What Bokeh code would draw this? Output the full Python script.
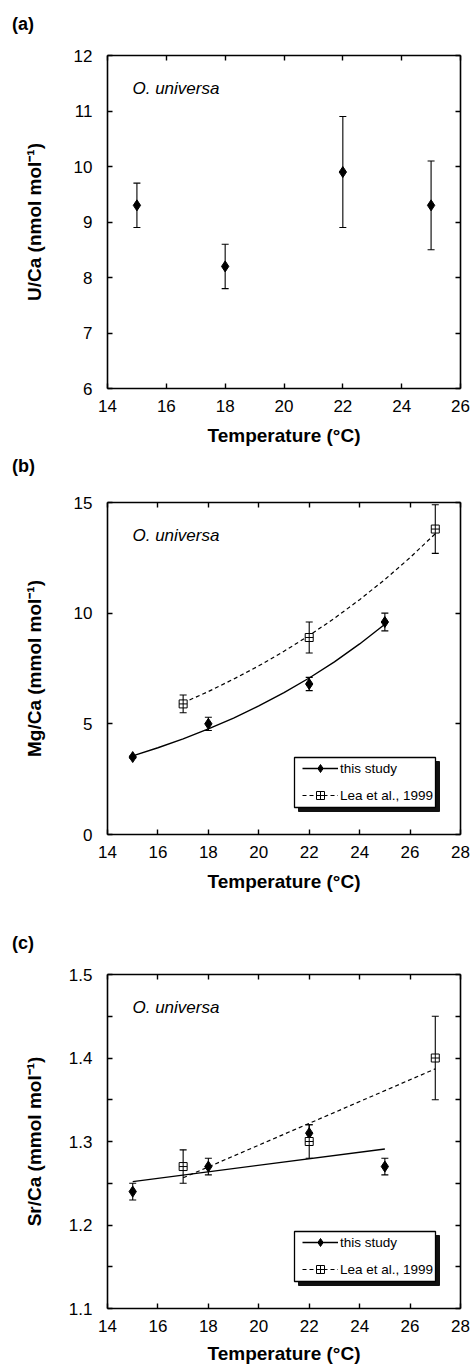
from bokeh.plotting import figure
from bokeh.models import (ColumnDataSource, Whisker, TeeHead, Legend, LegendItem, LinearAxis,
                          FixedTicker, Range1d, Label, CustomLabelingPolicy, Div)
from bokeh.layouts import column
from bokeh.embed import file_html
from bokeh.resources import INLINE

# ---------------- data ----------------
# (a) U/Ca
a_temp = [15, 18, 22, 25]
a_uca = [9.3, 8.2, 9.9, 9.3]
a_uca_lo = [8.9, 7.8, 8.9, 8.5]
a_uca_hi = [9.7, 8.6, 10.9, 10.1]

# (b) Mg/Ca
b_temp = [15, 18, 22, 25]
b_mgca = [3.5, 5.0, 6.8, 9.6]
b_mgca_lo = [3.45, 4.7, 6.5, 9.2]
b_mgca_hi = [3.55, 5.3, 7.1, 10.0]
b_lea_temp = [17, 22, 27]
b_lea_mgca = [5.9, 8.9, 13.8]
b_lea_lo = [5.5, 8.2, 12.7]
b_lea_hi = [6.3, 9.6, 14.9]
b_fit_temp = [15, 16, 17, 18, 19, 20, 21, 22, 23, 24, 25]
b_fit_mgca = [3.55, 3.92, 4.32, 4.77, 5.26, 5.81, 6.41, 7.07, 7.80, 8.61, 9.50]
b_lea_fit_temp = [17, 18, 19, 20, 21, 22, 23, 24, 25, 26, 27]
b_lea_fit_mgca = [5.95, 6.46, 7.02, 7.62, 8.28, 8.99, 9.77, 10.61, 11.52, 12.51, 13.59]

# (c) Sr/Ca
c_temp = [15, 18, 22, 25]
c_srca = [1.24, 1.27, 1.31, 1.27]
c_srca_lo = [1.23, 1.26, 1.30, 1.26]
c_srca_hi = [1.25, 1.28, 1.32, 1.28]
c_lea_temp = [17, 22, 27]
c_lea_srca = [1.27, 1.30, 1.40]
c_lea_lo = [1.25, 1.28, 1.35]
c_lea_hi = [1.29, 1.32, 1.45]
c_fit_temp = [15, 25]
c_fit_srca = [1.252, 1.291]
c_lea_fit_temp = [17, 27]
c_lea_fit_srca = [1.2565, 1.387]

# tick labels
a_xticks = [14, 16, 18, 20, 22, 24, 26]
a_yticks = [6, 7, 8, 9, 10, 11, 12]
b_xticks = [14, 16, 18, 20, 22, 24, 26, 28]
b_yticks = [0, 5, 10, 15]
c_xticks = [14, 16, 18, 20, 22, 24, 26, 28]
c_yticks = [1.1, 1.2, 1.3, 1.4, 1.5]
c_yminor = [1.15, 1.25, 1.35, 1.45]

FONT = "Liberation Sans"
FRAME_W = 353
FIG_W = 470
HIDE_LABELS = "for (const i of Array.from(indices)) { indices.unset(i) }\nreturn indices"


def letter_strip(text, height, top):
    """A thin strip that carries the panel letter."""
    html = ('<span style="position:absolute;left:12px;top:%dpx;'
            "font-family:'Liberation Sans',Arial,sans-serif;font-size:18px;"
            'font-weight:bold;line-height:18px;color:black;white-space:nowrap;">%s</span>'
            % (top, text))
    return Div(text=html, width=FIG_W, height=height, margin=0,
               styles={"position": "relative", "overflow": "visible"})


def style_ticks(ax, minor):
    ax.axis_line_width = 1.6
    ax.axis_line_color = "black"
    ax.major_tick_in = 5
    ax.major_tick_out = 0
    ax.major_tick_line_width = 1.4
    ax.major_tick_line_color = "black"
    ax.minor_tick_in = 5 if minor else 0
    ax.minor_tick_out = 0
    ax.minor_tick_line_width = 1.4
    ax.minor_tick_line_color = "black" if minor else None


def make_fig(top, frame_h, bottom, xr, yr, xt, yt, ylabel, ylab_standoff, xlab_standoff,
             yminor=None):
    p = figure(frame_width=FRAME_W, frame_height=frame_h,
               x_range=Range1d(*xr), y_range=Range1d(*yr),
               output_backend="svg", toolbar_location=None,
               min_border_left=107, min_border_right=10,
               min_border_top=top, min_border_bottom=bottom,
               x_axis_label="Temperature (°C)", y_axis_label=ylabel)
    p.grid.visible = False
    p.outline_line_color = None
    p.xaxis.ticker = FixedTicker(ticks=xt)
    p.yaxis.ticker = FixedTicker(ticks=yt, minor_ticks=yminor or [])
    style_ticks(p.xaxis[0], False)
    style_ticks(p.yaxis[0], bool(yminor))
    for ax in (p.xaxis[0], p.yaxis[0]):
        ax.major_label_text_font = FONT
        ax.major_label_text_font_size = "17px"
        ax.major_label_text_color = "black"
        ax.axis_label_text_font = FONT
        ax.axis_label_text_font_size = "19px"
        ax.axis_label_text_font_style = "bold"
        ax.axis_label_text_color = "black"
    p.xaxis.major_label_standoff = 11
    p.yaxis.major_label_standoff = 15
    p.xaxis.axis_label_standoff = xlab_standoff
    p.yaxis.axis_label_standoff = ylab_standoff
    # mirrored axes (ticks only, labels suppressed)
    top_ax = LinearAxis(ticker=FixedTicker(ticks=xt))
    right_ax = LinearAxis(ticker=FixedTicker(ticks=yt, minor_ticks=yminor or []))
    style_ticks(top_ax, False)
    style_ticks(right_ax, bool(yminor))
    for ax in (top_ax, right_ax):
        ax.major_label_text_font_size = "1px"
        ax.major_label_standoff = 0
        ax.major_label_policy = CustomLabelingPolicy(code=HIDE_LABELS)
    p.add_layout(top_ax, "above")
    p.add_layout(right_ax, "right")
    p.add_layout(Label(x=25, y=frame_h - 33, x_units="screen", y_units="screen",
                       text="O. universa", text_font=FONT, text_font_size="17px",
                       text_font_style="italic", text_baseline="middle",
                       text_align="left", text_color="black"))
    return p


def add_errs(p, xs, lo, hi):
    src = ColumnDataSource(dict(x=xs, lo=lo, hi=hi))
    w = Whisker(source=src, base="x", lower="lo", upper="hi", dimension="height",
                line_color="black", line_width=1.1, level="underlay",
                upper_head=TeeHead(size=7, line_width=1.1, line_color="black"),
                lower_head=TeeHead(size=7, line_width=1.1, line_color="black"))
    p.add_layout(w)


# legend box geometry (pixels from the frame's bottom-left corner)
BOX_X, BOX_Y, BOX_W, BOX_H, SHADOW = 187, 27, 141, 50, 4


def add_legend(p, frame_h, this_items, lea_items):
    x0, x1 = p.x_range.start, p.x_range.end
    y0, y1 = p.y_range.start, p.y_range.end
    sx = (x1 - x0) / FRAME_W
    sy = (y1 - y0) / frame_h
    # drop shadow, then the white framed box on top of it
    p.quad(left=[x0 + (BOX_X + SHADOW) * sx], right=[x0 + (BOX_X + BOX_W + SHADOW) * sx],
           bottom=[y0 + (BOX_Y - SHADOW) * sy], top=[y0 + (BOX_Y + BOX_H - SHADOW) * sy],
           fill_color="#111111", line_color="#111111", line_width=1)
    p.quad(left=[x0 + BOX_X * sx], right=[x0 + (BOX_X + BOX_W) * sx],
           bottom=[y0 + BOX_Y * sy], top=[y0 + (BOX_Y + BOX_H) * sy],
           fill_color="white", line_color="black", line_width=1.3)
    leg = Legend(items=[LegendItem(label="this study", renderers=this_items),
                        LegendItem(label="Lea et al., 1999", renderers=lea_items)],
                 location=(BOX_X + 8, BOX_Y + 2), orientation="vertical",
                 padding=0, spacing=7, margin=0,
                 glyph_width=36, glyph_height=20, label_height=20, label_standoff=2,
                 label_text_font=FONT, label_text_font_size="13.5px",
                 label_text_color="black",
                 border_line_color=None, background_fill_alpha=0.0)
    p.add_layout(leg, "center")


# ---------------- (a) ----------------
la = letter_strip("(a)", 40, 15)
pa = make_fig(15, 333, 62, (14, 26), (6, 12), a_xticks, a_yticks,
              "U/Ca (nmol mol⁻¹)", 26, 10)
add_errs(pa, a_temp, a_uca_lo, a_uca_hi)
pa.scatter(a_temp, a_uca, marker="diamond", size=11, fill_color="black", line_color="black")

# ---------------- (b) ----------------
lb = letter_strip("(b)", 30, 7)
pb = make_fig(22, 332, 76, (14, 28), (0, 15), b_xticks, b_yticks,
              "Mg/Ca (mmol mol⁻¹)", 26, 10)
add_errs(pb, b_temp, b_mgca_lo, b_mgca_hi)
add_errs(pb, b_lea_temp, b_lea_lo, b_lea_hi)
lb1 = pb.line(b_fit_temp, b_fit_mgca, line_color="black", line_width=1.4)
lb2 = pb.line(b_lea_fit_temp, b_lea_fit_mgca, line_color="black", line_width=1.2,
              line_dash="4 3")
mb1 = pb.scatter(b_temp, b_mgca, marker="diamond", size=11, fill_color="black",
                 line_color="black")
mb2 = pb.scatter(b_lea_temp, b_lea_mgca, marker="square_cross", size=8,
                 fill_color="white", line_color="black", line_width=1)
add_legend(pb, 332, [lb1, mb1], [lb2, mb2])

# ---------------- (c) ----------------
lc = letter_strip("(c)", 45, 24)
pc = make_fig(19, 334, 58, (14, 28), (1.1, 1.5), c_xticks, c_yticks,
              "Sr/Ca (mmol mol⁻¹)", 21, 8, yminor=c_yminor)
add_errs(pc, c_temp, c_srca_lo, c_srca_hi)
add_errs(pc, c_lea_temp, c_lea_lo, c_lea_hi)
lc1 = pc.line(c_fit_temp, c_fit_srca, line_color="black", line_width=1.4)
lc2 = pc.line(c_lea_fit_temp, c_lea_fit_srca, line_color="black", line_width=1.2,
              line_dash="4 3")
mc1 = pc.scatter(c_temp, c_srca, marker="diamond", size=11, fill_color="black",
                 line_color="black")
mc2 = pc.scatter(c_lea_temp, c_lea_srca, marker="square_cross", size=8,
                 fill_color="white", line_color="black", line_width=1)
add_legend(pc, 334, [lc1, mc1], [lc2, mc2])

layout = column(la, pa, lb, pb, lc, pc, spacing=0)
open("out.html", "w").write(file_html(layout, INLINE))
